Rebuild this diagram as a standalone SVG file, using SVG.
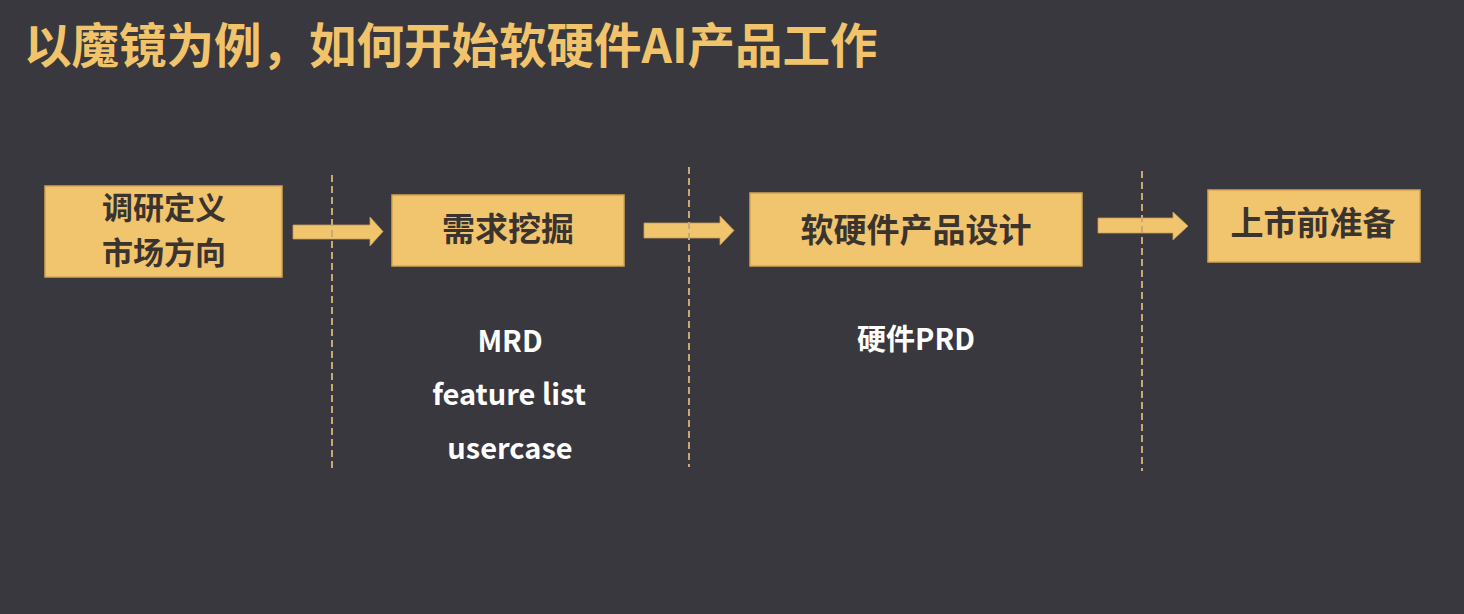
<svg xmlns="http://www.w3.org/2000/svg" width="1464" height="614" viewBox="0 0 1464 614">
<style>
.title{font-family:"Noto Sans CJK SC","Noto Sans",sans-serif;font-weight:700;font-size:47.5px;fill:#F1C46C}
.box{fill:#F1C46E;stroke:#D4A450;stroke-width:1.5}
.bt{font-family:"Noto Sans CJK SC","Noto Sans",sans-serif;font-weight:700;font-size:33px;fill:#3A332E;text-anchor:middle}
.bt2{font-size:31px}
.wt{font-family:"Noto Sans CJK SC","Noto Sans",sans-serif;font-weight:700;font-size:29px;fill:#FFFFFF;text-anchor:middle}
.arr{fill:#F1C46E;stroke:#C99E55;stroke-width:0.8}
.dash{stroke:#C9A877;stroke-width:2;stroke-dasharray:7 4;fill:none}
</style>
<rect x="0" y="0" width="1464" height="614" fill="#38383E"/>
<text class="title" x="24" y="63">以魔镜为例，如何开始软硬件AI产品工作</text>
<g id="node-research">
<rect class="box" x="45" y="186" width="237" height="91"/>
<text class="bt bt2" x="164" y="219">调研定义</text>
<text class="bt bt2" x="164" y="264">市场方向</text>
</g>
<g id="node-demand">
<rect class="box" x="392" y="195" width="232" height="71"/>
<text class="bt" x="508" y="241">需求挖掘</text>
</g>
<g id="node-design">
<rect class="box" x="750" y="193" width="332" height="73"/>
<text class="bt" x="916" y="242">软硬件产品设计</text>
</g>
<g id="node-launch">
<rect class="box" x="1208" y="190" width="212" height="72"/>
<text class="bt" x="1313" y="235">上市前准备</text>
</g>
<g id="connectors">
<polygon class="arr" points="293,225 370,225 370,217 383,231.5 370,246 370,239 293,239"/>
<polygon class="arr" points="644,223 720,223 720,216 734,230.5 720,245 720,238 644,238"/>
<polygon class="arr" points="1098,218 1173,218 1173,212 1188,226 1173,240 1173,233 1098,233"/>
</g>
<g id="dividers">
<line class="dash" x1="332" y1="175" x2="332" y2="468"/>
<line class="dash" x1="689" y1="167" x2="689" y2="467"/>
<line class="dash" x1="1142" y1="171" x2="1142" y2="471"/>
</g>
<g id="notes">
<text class="wt" x="510" y="352">MRD</text>
<text class="wt" x="509" y="405">feature list</text>
<text class="wt" x="510" y="459">usercase</text>
<text class="wt" x="916" y="350">硬件PRD</text>
</g>
</svg>
